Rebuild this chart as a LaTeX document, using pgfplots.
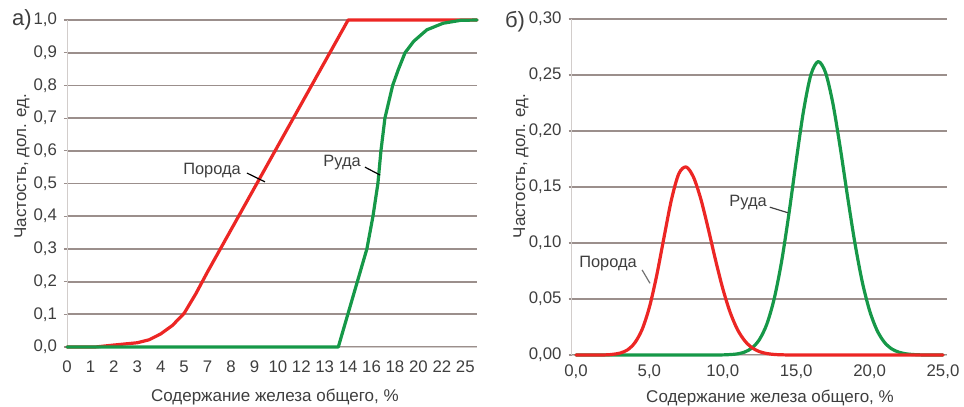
\documentclass[border=0pt]{standalone}
\usepackage{fontspec}
\setmainfont{Liberation Sans}
\usepackage{pgfplots}
\pgfplotsset{compat=1.18}

\definecolor{gridc}{RGB}{155,143,140}
\definecolor{redc}{RGB}{236,38,36}
\definecolor{greenc}{RGB}{22,152,72}
\definecolor{txt}{RGB}{62,62,62}

\pgfplotsset{
  panel/.style={
    scale only axis, clip=false,
    axis y line*=left, axis x line*=bottom,
    axis line style={draw=gridc!45,-},
    ymajorgrids, grid style={draw=gridc, line width=0.9pt},
    tick label style={font=\fontsize{8.4}{9}\selectfont, text=txt},
    label style={font=\fontsize{8.5}{10}\selectfont, text=txt},
    /pgf/number format/assume math mode=true,
    major tick length=1.5pt, tick align=outside,
    tick style={draw=gridc, line width=0.6pt},
    x tick style={draw=none},
    every axis plot/.append style={line width=1.6pt, line join=round, line cap=round},
  },
}

% cumulative curves (left panel), x is the position of the category
\pgfplotstableread{
x     y
0     0
1.2   0
2     0.006
3     0.013
3.5   0.022
4     0.040
4.5   0.066
5     0.103
5.5   0.163
6     0.230
12    1.000
17.5  1.000
}\rockcum
\pgfplotstableread{
x     y
0     0
11.58 0
12.8  0.30
13.06 0.40
13.27 0.50
13.4  0.60
13.57 0.70
13.9  0.80
14.15 0.85
14.43 0.90
14.8  0.935
15.36 0.97
16.05 0.99
16.8  0.999
17.5  1.0
}\orecum

% frequency curves (right panel)
\pgfplotstableread{
x     y
0     0
1     0
2     0.0001
2.5   0.0006
3.0   0.0017
3.5   0.0045
4.0   0.0108
4.5   0.0227
5.0   0.0427
5.5   0.0712
6.0   0.1054
6.5   0.1386
7.0   0.1618
7.5   0.1679
8.0   0.1589
8.5   0.1394
9.0   0.1132
9.5   0.0851
10.0  0.0592
10.5  0.0381
11.0  0.0227
11.5  0.0126
12.0  0.0064
12.5  0.0030
13.0  0.0013
13.5  0.0005
14.0  0.0002
15    0
20    0
25    0
}\rockfreq
\pgfplotstableread{
x     y
0     0
5     0
9     0
10.0  0.0001
10.5  0.0004
11.0  0.0010
11.5  0.0027
12.0  0.0064
12.5  0.0139
13.0  0.0276
13.5  0.0502
14.0  0.0831
14.5  0.1257
15.0  0.1733
15.5  0.2180
16.0  0.2502
16.5  0.2620
17.0  0.2521
17.5  0.2245
18.0  0.1851
18.5  0.1413
19.0  0.0999
19.5  0.0653
20.0  0.0396
20.5  0.0222
21.0  0.0115
21.5  0.0055
22.0  0.0025
22.5  0.0010
23.0  0.0004
23.5  0.0001
24    0
25    0
}\orefreq

\begin{document}
\begin{tikzpicture}
\useasboundingbox (0,0) rectangle (482pt,-203.5pt);

% а) cumulative curves
\begin{axis}[panel,
  at={(33.5pt,-173.5pt)}, anchor=south west,
  width=205pt, height=163.5pt,
  xmin=0, xmax=17.5, ymin=0, ymax=1,
  xtick={0,...,17},
  xticklabels={0,1,2,3,4,5,7,8,9,10,12,13,14,16,18,20,22,25},
  xticklabel style={yshift=-2pt},
  ytick={0,0.1,0.2,0.3,0.4,0.5,0.6,0.7,0.8,0.9,1.0},
  yticklabel style={/pgf/number format/.cd, fixed, fixed zerofill, precision=1, use comma},
  xlabel={Содержание железа общего, \%},
  ylabel={Частость, дол. ед.},
  xlabel style={at={(axis description cs:0.507,-0.153)}, anchor=center},
  ylabel style={at={(axis description cs:-0.11,0.553)}, anchor=center},
]
\addplot[redc] table[x=x, y=y] {\rockcum};
\addplot[greenc] table[x=x, y=y] {\orecum};
\node[font=\fontsize{8.2}{9}\selectfont, text=txt] at (axis cs:6.19,0.541) {Порода};
\draw[black, line width=0.6pt] (axis cs:7.68,0.532) -- (axis cs:8.45,0.505);
\node[font=\fontsize{8.2}{9}\selectfont, text=txt] at (axis cs:11.74,0.563) {Руда};
\draw[black, line width=0.6pt] (axis cs:12.72,0.55) -- (axis cs:13.36,0.526);
\end{axis}

% б) frequency curves
\begin{axis}[panel,
  at={(285.8pt,-177.5pt)}, anchor=south west,
  width=187.9pt, height=168pt,
  xmin=-0.3, xmax=25.3, ymin=0, ymax=0.30,
  xtick={0,5,10,15,20,25},
  ytick={0,0.05,0.10,0.15,0.20,0.25,0.30},
  xticklabel style={/pgf/number format/.cd, fixed, fixed zerofill, precision=1, use comma},
  yticklabel style={/pgf/number format/.cd, fixed, fixed zerofill, precision=2, use comma},
  xlabel={Содержание железа общего, \%},
  ylabel={Частость, дол. ед.},
  xlabel style={at={(axis description cs:0.528,-0.128)}, anchor=center},
  ylabel style={at={(axis description cs:-0.135,0.5625)}, anchor=center},
]
\addplot[greenc, smooth] table[x=x, y=y] {\orefreq};
\addplot[redc, smooth] table[x=x, y=y] {\rockfreq};
\node[font=\fontsize{8.2}{9}\selectfont, text=txt] at (axis cs:11.72,0.1357) {Руда};
\draw[black!75, line width=0.6pt] (axis cs:13.2,0.132) -- (axis cs:14.44,0.127);
\node[font=\fontsize{8.2}{9}\selectfont, text=txt] at (axis cs:2.18,0.082) {Порода};
\draw[black!55, line width=0.6pt] (axis cs:4.5,0.076) -- (axis cs:5.04,0.064);
\end{axis}

% panel letters
\node[font=\fontsize{11}{12}\selectfont, text=txt] at (11pt,-10pt) {а)};
\node[font=\fontsize{11}{12}\selectfont, text=txt] at (257.5pt,-11pt) {б)};
\end{tikzpicture}
\end{document}
